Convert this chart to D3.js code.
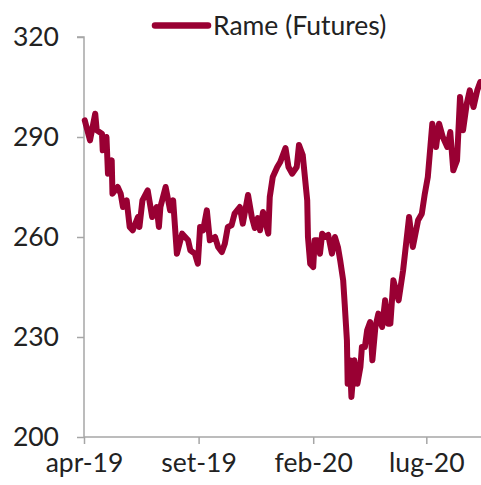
<!DOCTYPE html>
<html><head><meta charset="utf-8">
<script src="https://cdn.jsdelivr.net/npm/d3@7"></script>
<style>body{margin:0;background:#fff}text{font-family:Lato,"Open Sans",sans-serif}</style>
</head><body><svg id="c" width="481" height="485"></svg>
<script>
const seriesName = "Rame (Futures)";
const dates = ["2019-04-02","2019-04-09","2019-04-16","2019-04-18","2019-04-25","2019-04-26","2019-05-01","2019-05-03","2019-05-08","2019-05-09","2019-05-16","2019-05-20","2019-05-23","2019-05-28","2019-06-01","2019-06-05","2019-06-12","2019-06-14","2019-06-18","2019-06-25","2019-07-01","2019-07-07","2019-07-10","2019-07-12","2019-07-19","2019-07-25","2019-07-29","2019-08-03","2019-08-10","2019-08-18","2019-08-21","2019-08-27","2019-08-31","2019-09-03","2019-09-07","2019-09-12","2019-09-16","2019-09-23","2019-09-27","2019-10-02","2019-10-06","2019-10-10","2019-10-15","2019-10-19","2019-10-26","2019-10-30","2019-11-06","2019-11-11","2019-11-15","2019-11-19","2019-11-22","2019-11-26","2019-12-03","2019-12-05","2019-12-09","2019-12-15","2019-12-19","2019-12-26","2019-12-30","2020-01-04","2020-01-10","2020-01-13","2020-01-18","2020-01-24","2020-01-25","2020-01-28","2020-02-01","2020-02-03","2020-02-07","2020-02-10","2020-02-13","2020-02-17","2020-02-21","2020-02-26","2020-03-01","2020-03-05","2020-03-08","2020-03-12","2020-03-14","2020-03-17","2020-03-18","2020-03-21","2020-03-23","2020-03-27","2020-03-31","2020-04-04","2020-04-06","2020-04-10","2020-04-13","2020-04-17","2020-04-20","2020-04-24","2020-04-28","2020-05-03","2020-05-07","2020-05-11","2020-05-14","2020-05-18","2020-05-25","2020-05-31","2020-06-03","2020-06-08","2020-06-13","2020-06-20","2020-06-25","2020-06-29","2020-07-03","2020-07-09","2020-07-14","2020-07-18","2020-07-23","2020-07-29","2020-08-02","2020-08-06","2020-08-11","2020-08-15","2020-08-19","2020-08-24","2020-08-28","2020-09-02","2020-09-07","2020-09-11"];
const values = [295,289,297,292,291,286,290,279,283,273,275,273,269,271,263,262,266,263,271,274,266,269,263,269,275,268,271,255,261,259,256,255,252,263,262,268,259,260,257,255.5,258,263,263.5,267,269,264,272.6,266,262.7,265.7,262,267.5,261,272,278,281,282.5,286.7,281,279,281,287.6,284.6,271,260,252,251,259,259,255,261,260,260.6,255,260,257,253,247,240,229,216,223,212,223,216,221,227,227,232,234.5,223,233,237,233,241,234,234,247,241,250,256,266,257,265,267,273,278,294,287,294,290,287,291.5,280,283,302,292,300,304,299,304,306.5];
const yTicks = [200,230,260,290,320];
const xTickDates = ["2019-04-01","2019-09-01","2020-02-01","2020-07-01"];
const xTickLabels = ["apr-19","set-19","feb-20","lug-20"];

const parse = d3.timeParse("%Y-%m-%d");
const data = dates.map((d,i)=>({date:parse(d), v:values[i]}));
const color = "#990033";
const svg = d3.select("#c");
const L=84, R=481, T=37, B=437;
const x = d3.scaleTime().domain([parse("2019-04-01"), parse("2020-09-12")]).range([L,R]);
const y = d3.scaleLinear().domain([200,320]).range([B,T]);

const axisColor = "#a6a6a6";
const ya = svg.append("g").attr("transform",`translate(${L},0)`)
  .call(d3.axisLeft(y).tickValues(yTicks).tickSize(7).tickPadding(18));
const xa = svg.append("g").attr("transform",`translate(0,${B})`)
  .call(d3.axisBottom(x).tickValues(xTickDates.map(parse)).tickFormat((d,i)=>xTickLabels[i]).tickSize(7).tickPadding(9));
[ya,xa].forEach(g=>{
  g.select(".domain").attr("stroke",axisColor).attr("stroke-width",1.5);
  g.selectAll(".tick line").attr("stroke",axisColor).attr("stroke-width",1.5);
  g.selectAll(".tick text").attr("fill","#222").attr("font-size",26.5).attr("font-family","Lato");
});
ya.select(".domain").attr("d",`M-7,${T}H0V${B}`);
xa.select(".domain").attr("d",`M${L},0H${R}`);

const line = d3.line().x(d=>x(d.date)).y(d=>y(d.v));
svg.append("path").datum(data).attr("d",line).attr("fill","none")
  .attr("stroke",color).attr("stroke-width",6).attr("stroke-linejoin","round").attr("stroke-linecap","round");

const lg = svg.append("g");
lg.append("line").attr("x1",155).attr("x2",208).attr("y1",25.5).attr("y2",25.5)
  .attr("stroke",color).attr("stroke-width",6.5).attr("stroke-linecap","round");
lg.append("text").attr("x",213).attr("y",35).attr("font-size",26.5).attr("fill","#222").text(seriesName);
</script></body></html>
